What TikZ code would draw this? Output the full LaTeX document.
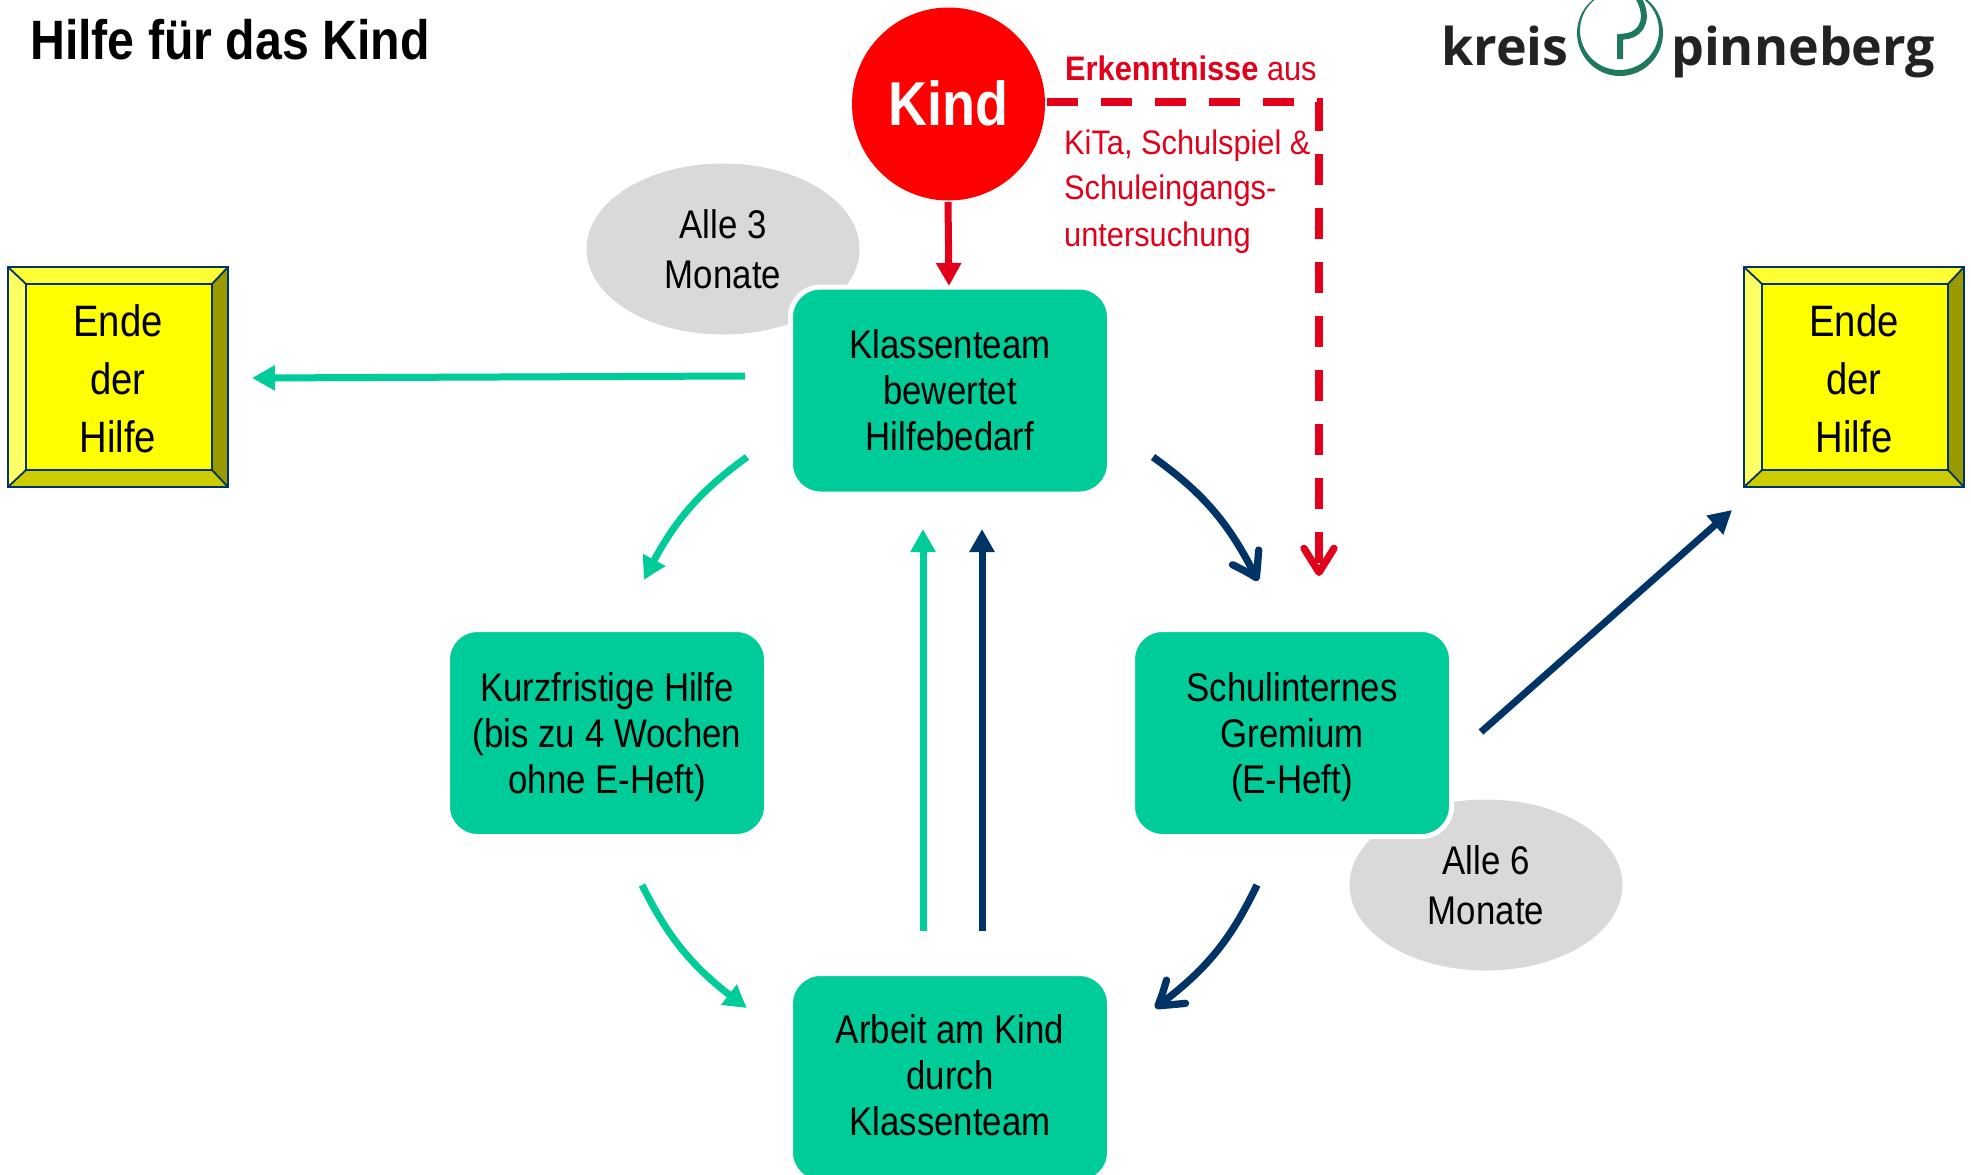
\documentclass[tikz,border=0pt]{standalone}
\usepackage{fontspec}
\setmainfont[FakeStretch=0.87]{Liberation Sans}
\newfontfamily\redfont[FakeStretch=0.905]{Liberation Sans}
\newfontfamily\logofont{Open Sans}
\usetikzlibrary{arrows.meta,shapes.geometric,bending}
\definecolor{teal}{HTML}{00CC99}
\definecolor{navy}{HTML}{003366}
\definecolor{rotdark}{HTML}{E2001A}
\definecolor{kindred}{HTML}{FF0000}
\definecolor{grayell}{HTML}{D9D9D9}
\definecolor{logogreen}{HTML}{1F7A5C}
\definecolor{logotext}{HTML}{222222}
\definecolor{bevelface}{HTML}{FFFF00}
\definecolor{beveltop}{HTML}{FFFF33}
\definecolor{bevelleft}{HTML}{FFFF66}
\definecolor{bevelright}{HTML}{999900}
\definecolor{bevelbottom}{HTML}{CCCC00}
\newcommand{\fs}[2]{\fontsize{#1pt}{#2pt}\selectfont}
\newcommand{\bevelbox}{%
  \fill[bevelface] (8,267) rectangle (228,487);
  \fill[beveltop] (8,267) -- (228,267) -- (212,284) -- (26,284) -- cycle;
  \fill[bevelleft] (8,267) -- (26,284) -- (26,470) -- (8,487) -- cycle;
  \fill[bevelright] (228,267) -- (212,284) -- (212,470) -- (228,487) -- cycle;
  \fill[bevelbottom] (8,487) -- (26,470) -- (212,470) -- (228,487) -- cycle;
  \draw[edgeline] (8,267) rectangle (228,487) (26,284) rectangle (212,470)
    (8,267) -- (26,284) (228,267) -- (212,284) (8,487) -- (26,470) (228,487) -- (212,470);
}
\tikzset{
  x=1pt,y=-1pt,
  stepbox/.style={draw=white,line width=5pt,fill=teal,rounded corners=30pt,minimum width=319pt,minimum height=207pt,inner sep=0pt,align=center,font=\fs{40}{46}},
  cloudell/.style={ellipse,fill=grayell,minimum width=273pt,minimum height=171pt,inner sep=0pt,align=center,font=\fs{40}{50}},
  endlabel/.style={align=center,inner sep=0pt,font=\fs{44}{58}},
  redtext/.style={text=rotdark,anchor=base west,inner sep=0pt,font=\fs{34}{40}\redfont},
  tealarrow/.style={draw=teal,line width=7pt,-{Triangle[length=23pt,width=24pt,bend]}},
  navyarrow/.style={draw=navy,line width=7pt,-{Triangle[length=23pt,width=24pt,bend]}},
  navyopen/.style={draw=navy,line width=7.3pt,-{Straight Barb[length=24pt,width=30pt,round,bend]}},
  redarrow/.style={draw=rotdark,line width=7pt,-{Triangle[length=23pt,width=24pt]}},
  reddash/.style={draw=rotdark,line width=7.3pt,dash pattern=on 31pt off 23pt,-{Straight Barb[length=24pt,width=30pt,round]}},
  edgeline/.style={draw=navy,line width=1.8pt,line join=miter},
}
\begin{document}
\begin{tikzpicture}
\useasboundingbox (0,0) rectangle (1971,1175);
\clip (0,0) rectangle (1971,1175);

% title
\node[anchor=base west,inner sep=0pt,font=\fs{55.5}{60}\bfseries] (title) at (30,59) {Hilfe für das Kind};

% logo
\node[anchor=base west,inner sep=0pt,text=logotext,font=\fs{52}{60}\logofont\bfseries] (kreis) at (1441,65) {kreis};
\node[anchor=base west,inner sep=0pt,text=logotext,font=\fs{52}{60}\logofont\bfseries] (pinn) at (1671,65) {pinneberg};
\fill[logogreen,even odd rule] (1620,33) circle[radius=43] (1619.5,30.5) circle[x radius=39.5,y radius=39.5];
\draw[logogreen,line width=6pt] (1620,59) -- (1620,37) -- (1628,36) .. controls (1642,33) and (1650,18) .. (1638,-3);

% grey ellipses
\node[cloudell] (e3) at (723,249) {Alle 3\\Monate};
\node[cloudell] (e6) at (1486,885) {Alle 6\\Monate};

% process boxes
\node[stepbox] (kt) at (950,390.5) {Klassenteam\\bewertet\\Hilfebedarf};
\node[stepbox] (kh) at (607,733) {\rule{0pt}{38pt}Kurzfristige Hilfe\\(bis zu 4 Wochen\\ohne E-Heft)};
\node[stepbox] (sg) at (1292,733) {\rule{0pt}{38pt}Schulinternes\\Gremium\\(E-Heft)};
\node[stepbox,minimum height=209pt] (ak) at (950,1078) {Arbeit am Kind\\durch\\Klassenteam\rule[-6pt]{0pt}{6pt}};

% Kind circle
\node[circle,fill=kindred,minimum size=193pt,inner sep=0pt,text=white,font=\fs{62}{62}\bfseries] (kind) at (948.5,104) {\raisebox{2pt}{Kind}};

% red text
\node[redtext] (erk) at (1065,80) {\textbf{Erkenntnisse} aus};
\node[redtext] (kita) at (1064,154) {KiTa, Schulspiel \&};
\node[redtext] (schul) at (1064,199) {Schuleingangs-};
\node[redtext] (unter) at (1064,246) {untersuchung};

% end boxes
\bevelbox
\node[endlabel] (endl) at (118,379) {Ende\\der\\Hilfe};
\begin{scope}[shift={(1736,0)}]
\bevelbox
\node[endlabel] (endr) at (118,379) {Ende\\der\\Hilfe};
\end{scope}

% connector end points
\coordinate (a1) at (948,202); \coordinate (a2) at (949,286);
\coordinate (d1) at (1047,102); \coordinate (d2) at (1319,102); \coordinate (d3) at (1319,576);
\coordinate (l1) at (745,376); \coordinate (l2) at (252,378);
\coordinate (t1) at (747,457); \coordinate (t2) at (644,580);
\coordinate (t3) at (642,885); \coordinate (t4) at (747,1008);
\coordinate (n1) at (1153,457); \coordinate (n2) at (1258,581);
\coordinate (n3) at (1257,885); \coordinate (n4) at (1155,1008);
\coordinate (v1) at (923,931); \coordinate (v2) at (923,529);
\coordinate (w1) at (982,931); \coordinate (w2) at (982,529);
\coordinate (r1) at (1481,732); \coordinate (r2) at (1732,510);

% connectors
\draw[redarrow] (a1) -- (a2);
\draw[reddash] (d1) -- (d2) -- (d3);
\draw[tealarrow] (l1) -- (l2);
\draw[tealarrow] (t1) to[bend right=14] (t2);
\draw[tealarrow] (t3) to[bend right=14] (t4);
\draw[navyopen] (n1) to[bend left=14] (n2);
\draw[navyopen] (n3) to[bend left=14] (n4);
\draw[tealarrow] (v1) -- (v2);
\draw[navyarrow] (w1) -- (w2);
\draw[navyarrow] (r1) -- (r2);
\end{tikzpicture}
\end{document}
